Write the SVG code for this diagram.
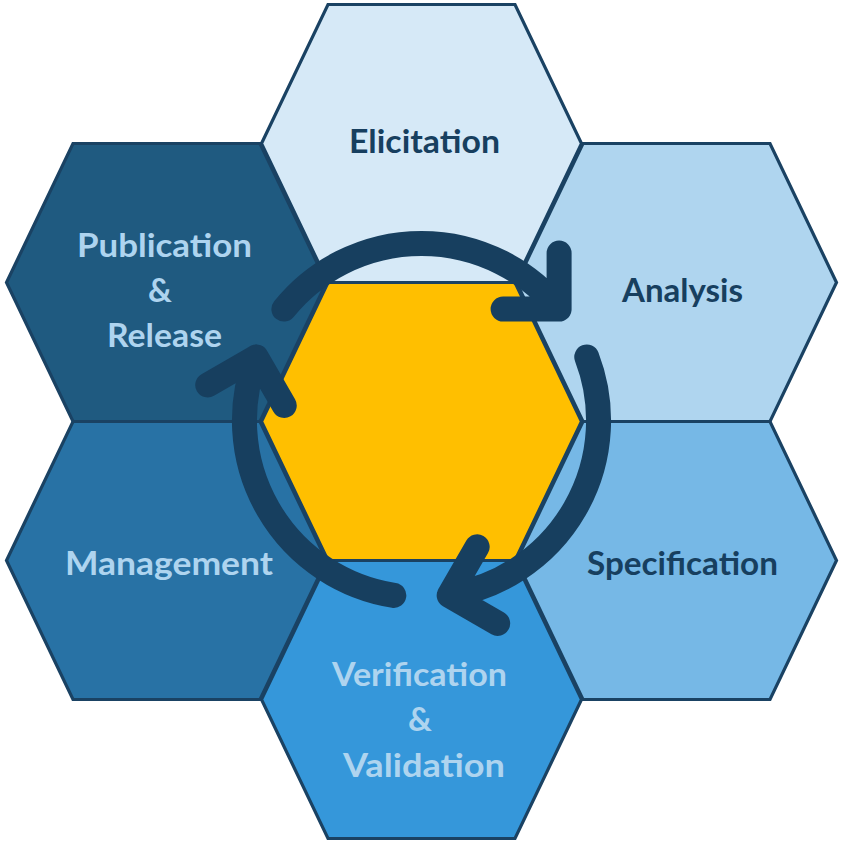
<svg xmlns="http://www.w3.org/2000/svg" xmlns:xlink="http://www.w3.org/1999/xlink" width="844" height="844" viewBox="0 0 844 844">
  <style>
    .hex { stroke: #1a4263; stroke-width: 3.2; stroke-linejoin: miter; }
    .lbl { font-family: "Lato", "Open Sans", "Liberation Sans", sans-serif; font-weight: 700; font-size: 33px; text-anchor: middle; }
    .dark { fill: #173f5f; }
    .light { fill: #aed4ef; }
    .arrow { fill: none; stroke: #173f5f; stroke-width: 25; stroke-linecap: round; stroke-linejoin: round; }
  </style>
  <defs>
    <path id="hexShape" d="M-160,0 L-93.5,-139 L93.5,-139 L160,0 L93.5,139 L-93.5,139 Z"/>
    <path id="arrowSeg" d="M283.9,309.1 A177,177 0 0 1 559.1,309.1 M559.1,253.1 L559.1,309.1 L503.1,309.1"/>
  </defs>

  <g id="elicitation">
    <use xlink:href="#hexShape" href="#hexShape" class="hex" fill="#d6e9f7" transform="translate(421.5,143.5)"/>
    <text class="lbl dark" x="424.5" y="153" textLength="151" lengthAdjust="spacingAndGlyphs">Elicitation</text>
  </g>
  <g id="analysis">
    <use xlink:href="#hexShape" href="#hexShape" class="hex" fill="#afd5ef" transform="translate(676.5,282.5)"/>
    <text class="lbl dark" x="682.5" y="302" textLength="121" lengthAdjust="spacingAndGlyphs">Analysis</text>
  </g>
  <g id="specification">
    <use xlink:href="#hexShape" href="#hexShape" class="hex" fill="#76b8e6" transform="translate(676.5,560.5)"/>
    <text class="lbl dark" x="682.5" y="575" textLength="191" lengthAdjust="spacingAndGlyphs">Specification</text>
  </g>
  <g id="verification-validation">
    <use xlink:href="#hexShape" href="#hexShape" class="hex" fill="#3597da" transform="translate(421.5,699.5)"/>
    <text class="lbl light" x="419.5" y="686" textLength="175" lengthAdjust="spacingAndGlyphs">Verification</text>
    <text class="lbl light" x="420" y="731">&amp;</text>
    <text class="lbl light" x="424" y="777" textLength="162" lengthAdjust="spacingAndGlyphs">Validation</text>
  </g>
  <g id="management">
    <use xlink:href="#hexShape" href="#hexShape" class="hex" fill="#2872a5" transform="translate(166.5,560.5)"/>
    <text class="lbl light" x="169" y="575" textLength="208" lengthAdjust="spacingAndGlyphs">Management</text>
  </g>
  <g id="publication-release">
    <use xlink:href="#hexShape" href="#hexShape" class="hex" fill="#1f5a80" transform="translate(166.5,282.5)"/>
    <text class="lbl light" x="164.5" y="257" textLength="175" lengthAdjust="spacingAndGlyphs">Publication</text>
    <text class="lbl light" x="160" y="302">&amp;</text>
    <text class="lbl light" x="164.5" y="347" textLength="115" lengthAdjust="spacingAndGlyphs">Release</text>
  </g>
  <g id="center">
    <use xlink:href="#hexShape" href="#hexShape" class="hex" fill="#ffbf00" transform="translate(421.5,421.5)"/>
  </g>

  <g id="connectors">
    <use xlink:href="#arrowSeg" href="#arrowSeg" class="arrow"/>
    <use xlink:href="#arrowSeg" href="#arrowSeg" class="arrow" transform="rotate(120 421.5 420.5)"/>
    <use xlink:href="#arrowSeg" href="#arrowSeg" class="arrow" transform="rotate(240 421.5 420.5)"/>
  </g>
</svg>
